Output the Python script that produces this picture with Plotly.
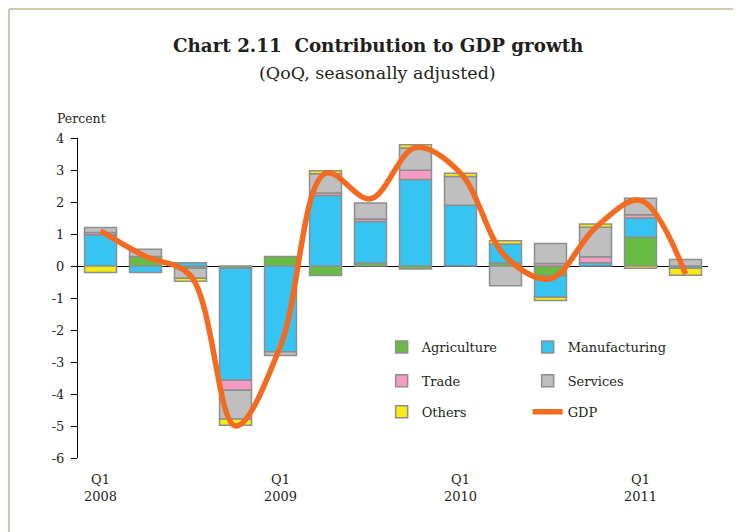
import plotly.graph_objects as go

# ---- data ----
years = ["2008", "2008", "2008", "2008", "2009", "2009", "2009", "2009",
         "2010", "2010", "2010", "2010", "2011", "2011"]
quarters = ["Q1", "Q2", "Q3", "Q4", "Q1", "Q2", "Q3", "Q4",
            "Q1", "Q2", "Q3", "Q4", "Q1", "Q2"]

agriculture = [None, 0.30, -0.07, -0.07, 0.30, -0.30, 0.09, -0.09, None, 0.09, -0.30, None, 0.90, None]
manufacturing = [0.98, -0.20, 0.10, -3.50, -2.68, 2.20, 1.30, 2.70, 1.90, 0.60, -0.68, 0.10, 0.60, -0.07]
trade = [0.07, None, None, -0.31, None, 0.08, 0.08, 0.29, None, None, 0.08, 0.19, 0.10, None]
services = [0.15, 0.22, -0.31, -0.90, -0.12, 0.60, 0.50, 0.70, 0.90, -0.62, 0.62, 0.92, 0.52, 0.20]
others = [-0.20, None, -0.10, -0.20, None, 0.10, None, 0.10, 0.10, 0.10, -0.10, 0.10, -0.07, -0.22]
gdp = [1.10, 0.30, -0.30, -5.00, -2.50, 2.90, 2.10, 3.70, 2.90, 0.30, -0.40, 1.20, 2.05, -0.25]

y_ticks = [4, 3, 2, 1, 0, -1, -2, -3, -4, -5, -6]
y_ticktext = ["4", "3", "2", "1", "0", "-1", "-2", "-3", "-4", "-5", "-6"]

# ---- styling ----
FONT = "DejaVu Serif"
TXT = "#231f20"
OUTLINE = "#8e8e8e"
x = list(range(len(years)))

fig = go.Figure()
series = [
    ("Agriculture", agriculture, "#68BC45", "legend"),
    ("Manufacturing", manufacturing, "#36C5F3", "legend"),
    ("Trade", trade, "#F49CC4", "legend2"),
    ("Services", services, "#BFBFBF", "legend2"),
    ("Others", others, "#F6EC14", "legend3"),
]
for name, vals, col, lg in series:
    fig.add_trace(go.Bar(
        x=x, y=vals, name=name, legend=lg,
        marker=dict(color=col, line=dict(color=OUTLINE, width=1.5)),
    ))
fig.add_trace(go.Scatter(
    x=x, y=gdp, name="GDP", legend="legend3", mode="lines",
    line=dict(color="#F36B21", width=5.5, shape="spline", smoothing=1.0),
))

# year-boundary tick marks on the zero line
for i in range(1, len(quarters)):
    if quarters[i] == "Q1":
        fig.add_shape(type="line", xref="x", yref="y", x0=i - 0.5, x1=i - 0.5,
                      y0=0, y1=-0.22, line=dict(color="black", width=1.2))

q1_idx = [i for i, q in enumerate(quarters) if q == "Q1"]
q1_text = [f"{quarters[i]}<br>{years[i]}" for i in q1_idx]

legend_common = dict(orientation="h", xanchor="left", yanchor="middle",
                     bgcolor="rgba(0,0,0,0)", entrywidth=101,
                     font=dict(family=FONT, size=13, color=TXT),
                     traceorder="normal", itemclick=False)

fig.update_layout(
    width=733, height=524, autosize=False,
    margin=dict(l=70, r=33, t=130, b=74),
    paper_bgcolor="white", plot_bgcolor="white",
    barmode="relative", bargap=0.29,
    font=dict(family=FONT, size=13, color=TXT),
    showlegend=True,
    legend=dict(x=0.482, y=0.347, **legend_common),
    legend2=dict(x=0.482, y=0.241, **legend_common),
    legend3=dict(x=0.482, y=0.144, **legend_common),
    xaxis=dict(range=[-0.5, 13.5], tickvals=q1_idx, ticktext=q1_text,
               showgrid=False, zeroline=False, showline=False, ticks="",
               ticklabelstandoff=12,
               tickfont=dict(family=FONT, size=13, color=TXT)),
    yaxis=dict(range=[-6, 4], tickvals=y_ticks, ticktext=y_ticktext,
               showgrid=False, showline=True, linecolor="black", linewidth=1.2,
               ticks="outside", ticklen=6, tickcolor="black", tickwidth=1.2,
               zeroline=True, zerolinecolor="black", zerolinewidth=1.2,
               layer="above traces", ticklabelstandoff=4,
               tickfont=dict(family=FONT, size=13, color=TXT)),
    annotations=[
        dict(text="<b>Chart 2.11\u00a0 Contribution to GDP growth</b>",
             xref="paper", yref="paper", x=0.476, y=1.29, showarrow=False,
             xanchor="center", yanchor="middle",
             font=dict(family=FONT, size=18.3, color=TXT)),
        dict(text="(QoQ, seasonally adjusted)",
             xref="paper", yref="paper", x=0.476, y=1.203, showarrow=False,
             xanchor="center", yanchor="middle",
             font=dict(family=FONT, size=17.5, color=TXT)),
        dict(text="Percent", xref="paper", yref="paper", x=-0.037, y=1.0625,
             showarrow=False, xanchor="left", yanchor="middle",
             font=dict(family=FONT, size=12.5, color=TXT)),
    ],
    shapes=[
        dict(type="line", xref="paper", yref="paper", x0=-0.1095, x1=1.06,
             y0=1.403, y1=1.403, line=dict(color="#D3C8A6", width=2)),
        dict(type="line", xref="paper", yref="paper", x0=-0.1095, x1=-0.1095,
             y0=1.403, y1=-0.25, line=dict(color="#D3C8A6", width=2)),
    ],
)

fig.write_html("out.html")
